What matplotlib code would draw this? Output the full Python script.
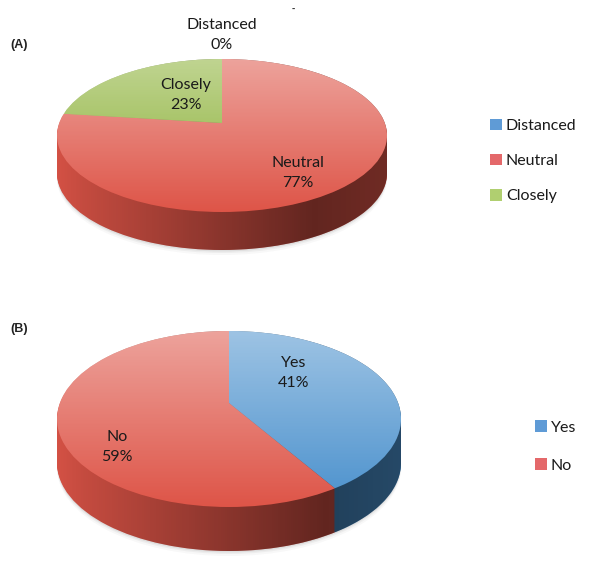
import numpy as np
import matplotlib
matplotlib.use("Agg")
import matplotlib.pyplot as plt
from matplotlib.patches import Circle, Patch, Polygon

W, H = 600, 571

labels_a = ["Distanced", "Neutral", "Closely"]
values_a = [0, 77, 23]
colors_a = ["#5b97d2", "#de5548", "#8ab034"]
legend_a = ["#5f9bd6", "#e4686a", "#b0cf70"]

labels_b = ["Yes", "No"]
values_b = [41, 59]
colors_b = ["#4b91cd", "#de5548"]
legend_b = ["#5f9bd6", "#e4686a"]

plt.rcParams["font.family"] = ["Lato", "DejaVu Sans"]
fig = plt.figure(figsize=(W / 100, H / 100), dpi=100)
fig.patch.set_facecolor("white")


def pie_3d(values, colors, cx, cy, rx, ry, apex_y, depth):
    # axes in flattened coords so the ellipse is the unit circle
    pad = 12
    ax = fig.add_axes([(cx - rx - pad) / W, (H - cy - ry - depth - pad) / H,
                       (2 * rx + 2 * pad) / W, (2 * ry + depth + 2 * pad) / H])
    x0, x1 = -1 - pad / rx, 1 + pad / rx
    y0, y1 = -1 - (depth + pad) / ry, 1 + pad / ry
    d = depth / ry
    a = (cy - apex_y) / ry

    # soft shadow under the pie
    for off, al in [(5, 0.05), (3, 0.08), (1.5, 0.12)]:
        ax.add_patch(Circle((0, -d - off / ry), 1, fc="#777777", ec="none", alpha=al, zorder=1))

    # side wall: stacked pies, one per pixel of depth
    for k in np.arange(depth, 0, -1):
        wedges, _ = ax.pie(values, colors=colors, startangle=90, counterclock=False,
                           center=(0, a - k / ry), radius=4, normalize=True)
        clip = Circle((0, -k / ry), 1, transform=ax.transData)
        for w in wedges:
            w.set_zorder(2)
            w.set_linewidth(0)
            w.set_clip_on(True)
            w.set_clip_path(clip)

    # dark shading across the wall
    th = np.linspace(0, np.pi, 200)
    outline = np.vstack([np.c_[np.cos(th), np.sin(th)],
                         np.c_[np.cos(th + np.pi), np.sin(th + np.pi) - d]])
    wall = Polygon(outline, closed=True, transform=ax.transData, fc="none", ec="none")
    ax.add_patch(wall)
    ramp = np.zeros((1, 256, 4))
    ramp[0, :, 3] = np.interp(np.linspace(0, 1, 256), [0, 0.08, 0.78, 1], [0.05, 0.12, 0.56, 0.5])
    im = ax.imshow(ramp, extent=(-1, 1, y0, y1), aspect="auto", zorder=3, interpolation="bilinear")
    im.set_clip_path(wall)

    # top face
    wedges, _ = ax.pie(values, colors=colors, startangle=90, counterclock=False,
                       center=(0, a), radius=4, normalize=True)
    top = Circle((0, 0), 1, transform=ax.transData)
    for w in wedges:
        w.set_zorder(4)
        w.set_linewidth(0)
        w.set_clip_on(True)
        w.set_clip_path(top)

    # white sheen from the top edge down
    sheen = np.ones((256, 1, 4))
    sheen[:, 0, 3] = np.linspace(0.46, 0, 256)
    im = ax.imshow(sheen, extent=(-1, 1, -1, 1), aspect="auto", zorder=5, interpolation="bilinear")
    im.set_clip_path(top)

    ax.set_aspect("auto")
    ax.set_xlim(x0, x1)
    ax.set_ylim(y0, y1)
    ax.axis("off")


def label(x, y, s, **kw):
    fig.text(x / W, 1 - y / H, s, ha="center", va="center", color="#1a1a1a",
             fontsize=11.5, linespacing=1.55, **kw)


def legend(names, cols, x, y, gap):
    handles = [Patch(fc=c, ec="none") for c in cols]
    fig.legend(handles, names, loc="center left", bbox_to_anchor=(x / W, 1 - y / H),
               frameon=False, fontsize=11.5, handlelength=0.75, handleheight=0.75,
               handletextpad=0.25, labelspacing=gap, borderpad=0, borderaxespad=0,
               labelcolor="#1a1a1a")


pie_3d(values_a, colors_a, 222, 135.5, 165, 76.5, 123, 38)
pie_3d(values_b, colors_b, 229, 419, 172, 88, 403, 44)

label(222, 35, f"{labels_a[0]}\n{values_a[0]}%")
label(298, 173, f"{labels_a[1]}\n{values_a[1]}%")
label(186, 95, f"{labels_a[2]}\n{values_a[2]}%")
label(294, 373, f"{labels_b[0]}\n{values_b[0]}%")
label(117, 447, f"{labels_b[1]}\n{values_b[1]}%")

legend(labels_a, legend_a, 490, 161, 1.3)
legend(labels_b, legend_b, 535, 446.5, 1.5)

fig.text(10 / W, 1 - 45 / H, "(A)", family="Liberation Sans", fontweight="bold",
         fontsize=9, va="center", color="#222222")
fig.text(10 / W, 1 - 329 / H, "(B)", family="Liberation Sans", fontweight="bold",
         fontsize=9, va="center", color="#222222")
fig.text(293 / W, 1 - 9 / H, "-", family="Liberation Sans", fontweight="bold",
         fontsize=7, ha="center", va="center", color="#333333")

fig.savefig("out.png", dpi=100)
